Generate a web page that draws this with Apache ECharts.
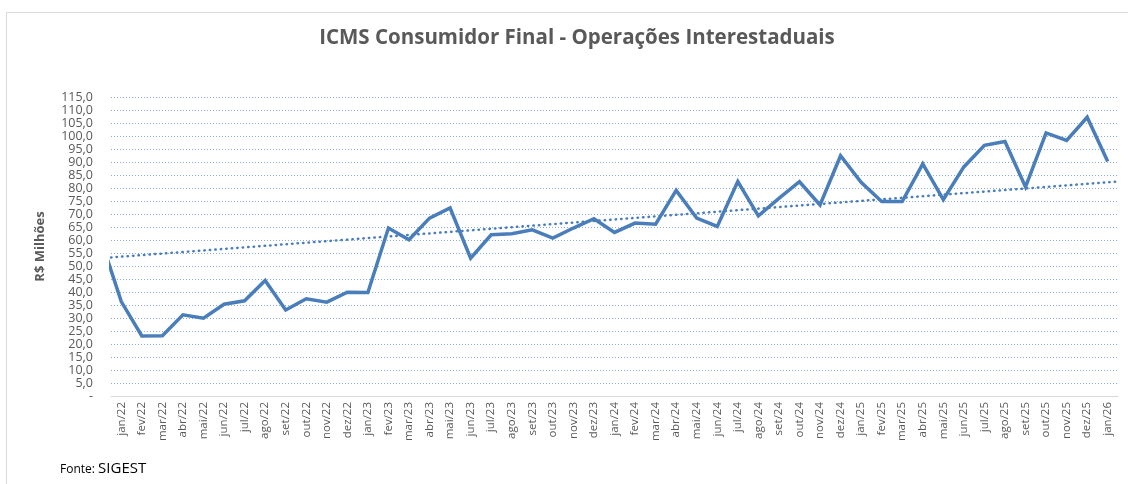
<!DOCTYPE html>
<html>
<head>
<meta charset="utf-8">
<script src="https://cdn.jsdelivr.net/npm/echarts@6/dist/echarts.min.js"></script>
<style>
  html, body { margin: 0; padding: 0; background: #fff; }
  #chart { width: 1128px; height: 484px; }
</style>
</head>
<body>
<div id="chart"></div>
<script>
// months shown on the axis; "dez/21" sits just outside the left edge
const months = [
  'dez/21',
  'jan/22', 'fev/22', 'mar/22', 'abr/22', 'mai/22', 'jun/22', 'jul/22', 'ago/22', 'set/22', 'out/22', 'nov/22', 'dez/22',
  'jan/23', 'fev/23', 'mar/23', 'abr/23', 'mai/23', 'jun/23', 'jul/23', 'ago/23', 'set/23', 'out/23', 'nov/23', 'dez/23',
  'jan/24', 'fev/24', 'mar/24', 'abr/24', 'mai/24', 'jun/24', 'jul/24', 'ago/24', 'set/24', 'out/24', 'nov/24', 'dez/24',
  'jan/25', 'fev/25', 'mar/25', 'abr/25', 'mai/25', 'jun/25', 'jul/25', 'ago/25', 'set/25', 'out/25', 'nov/25', 'dez/25',
  'jan/26'
];

// R$ milhões
const icms = [
  60.5,
  36.3, 23.1, 23.2, 31.2, 29.9, 35.3, 36.6, 44.4, 33.1, 37.4, 36.1, 39.9,
  39.8, 64.6, 60.1, 68.4, 72.3, 53.0, 62.0, 62.4, 63.9, 60.7, 64.6, 68.2,
  62.9, 66.5, 66.1, 79.1, 68.4, 65.2, 82.5, 69.3, 76.0, 82.4, 73.5, 92.4,
  82.2, 74.8, 74.8, 89.3, 75.5, 88.1, 96.4, 97.9, 80.4, 101.2, 98.3, 107.2,
  90.2
];

// linear trendline, value at left and right edge of the plot
const trendEnds = [53.3, 82.5];

const chart = echarts.init(document.getElementById('chart'), null, { renderer: 'canvas' });

const grey = '#595959';
const blue = '#4a7ebb';

chart.setOption({
  backgroundColor: '#fff',
  animation: false,
  title: {
    text: 'ICMS Consumidor Final - Operações Interestaduais',
    left: 572,
    top: 23,
    textAlign: 'center',
    textStyle: { fontFamily: 'Open Sans', fontWeight: 'bold', fontSize: 20.5, color: grey }
  },
  graphic: [
    {
      type: 'rect',
      shape: { x: 6.5, y: 12.5, width: 1130, height: 480 },
      style: { fill: 'none', stroke: '#d9d9d9', lineWidth: 1 },
      silent: true
    },
    {
      type: 'text',
      left: 60,
      top: 461,
      style: {
        text: '{a|Fonte: }{b|SIGEST}',
        rich: {
          a: { fontFamily: 'Open Sans', fontSize: 12, fill: '#000', verticalAlign: 'bottom' },
          b: { fontFamily: 'Open Sans', fontSize: 15, fill: '#000', verticalAlign: 'bottom' }
        }
      }
    }
  ],
  grid: { left: 111, right: 10, top: 97, bottom: 88, containLabel: false },
  xAxis: [
    {
      type: 'category',
      data: months,
      min: 1,
      max: months.length - 1,
      boundaryGap: true,
      axisLine: { lineStyle: { color: '#d9d9d9', width: 1 } },
      axisTick: { show: false },
      axisLabel: {
        rotate: 90,
        interval: 0,
        margin: 6,
        color: grey,
        fontFamily: 'Open Sans',
        fontSize: 11.5
      },
      splitLine: { show: false }
    },
    {
      type: 'value',
      min: 0,
      max: 1,
      show: false
    }
  ],
  yAxis: {
    type: 'value',
    min: 0,
    max: 115,
    interval: 5,
    name: 'R$ Milhões',
    nameLocation: 'middle',
    nameGap: 64,
    nameRotate: 90,
    nameTextStyle: { fontFamily: 'Open Sans', fontWeight: 'bold', fontSize: 13, color: grey },
    axisLine: { show: false },
    axisTick: { show: false },
    axisLabel: {
      margin: 18,
      color: grey,
      fontFamily: 'Open Sans',
      fontSize: 12.5,
      formatter: v => v === 0 ? '-' : v.toFixed(1).replace('.', ',')
    },
    splitLine: { lineStyle: { color: '#8eaadb', type: [1, 2], width: 1 } }
  },
  series: [
    {
      name: 'ICMS',
      type: 'line',
      data: icms,
      xAxisIndex: 0,
      clip: true,
      showSymbol: false,
      symbol: 'none',
      lineStyle: { color: blue, width: 3.5, join: 'miter' },
      z: 3
    },
    {
      name: 'Tendência',
      type: 'line',
      xAxisIndex: 1,
      data: [[0, trendEnds[0]], [1, trendEnds[1]]],
      showSymbol: false,
      symbol: 'none',
      lineStyle: { color: blue, width: 2.5, type: [0.5, 5], cap: 'round' },
      z: 2
    }
  ]
});
</script>
</body>
</html>
